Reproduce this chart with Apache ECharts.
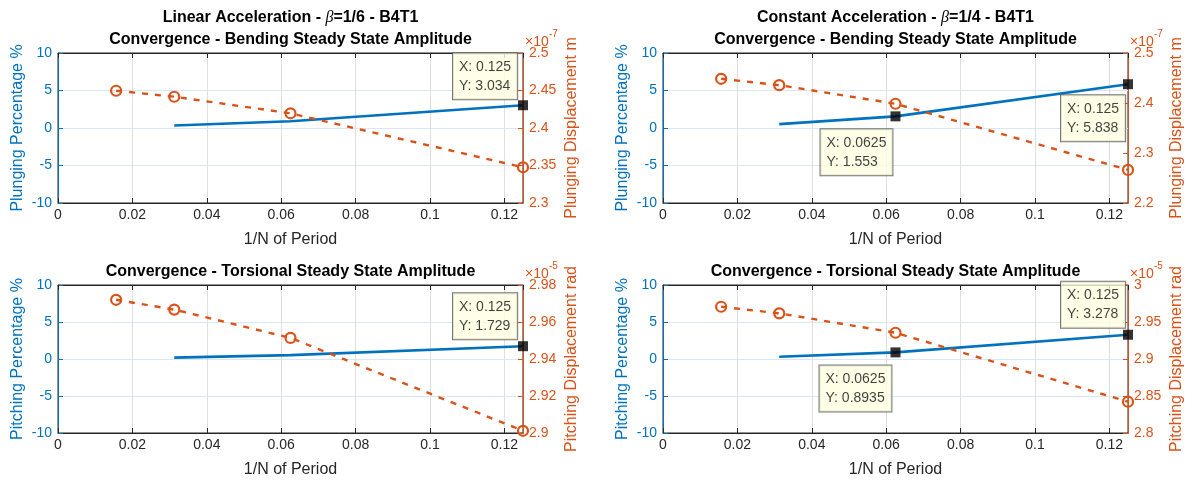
<!DOCTYPE html>
<html>
<head>
<meta charset="utf-8">
<title>Convergence - B4T1</title>
<script src="https://cdn.jsdelivr.net/npm/echarts@6/dist/echarts.min.js"></script>
<style>
  html, body { margin: 0; padding: 0; background: #fff; }
  #chart { width: 1192px; height: 484px; }
</style>
</head>
<body>
<div id="chart"></div>
<script>
// 1/N of period
var xDisp = [0.015625, 0.03125, 0.0625, 0.125];
var xPct = [0.03125, 0.0625, 0.125];
var xAxisLim = [0, 0.125, 0.02];
var pctAxisLim = [-10, 10, 5];

// linear acceleration, bending (displacement in 1e-7 m)
var linBendPct = [0.33, 0.91, 3.034];
var linBendDisp = [2.4497, 2.4417, 2.4196, 2.3476];
var linBendLim = [2.3, 2.5, 0.05];

// constant acceleration, bending (1e-7 m)
var conBendPct = [0.52, 1.553, 5.838];
var conBendDisp = [2.4484, 2.4357, 2.3985, 2.2662];
var conBendLim = [2.2, 2.5, 0.1];

// linear acceleration, torsion (1e-5 rad)
var linTorsPct = [0.18, 0.52, 1.729];
var linTorsDisp = [2.9720, 2.9667, 2.9514, 2.9012];
var linTorsLim = [2.9, 2.98, 0.02];

// constant acceleration, torsion (1e-5 rad)
var conTorsPct = [0.30, 0.8935, 3.278];
var conTorsDisp = [2.9706, 2.9617, 2.9355, 2.8423];
var conTorsLim = [2.8, 3.0, 0.05];

var BLUE = '#0072BD', ORANGE = '#D95319', DARK = '#262626';
var FONT = '"Liberation Sans", Arial, Helvetica, sans-serif';

var chart = echarts.init(document.getElementById('chart'));

// one entry per subplot
var panels = [
  { box: { left: 58, top: 53, width: 465, height: 150 },
    pct: linBendPct, disp: linBendDisp, lim: linBendLim, exp: '-7',
    leftName: 'Plunging Percentage %', rightName: 'Plunging Displacement m',
    tips: [2], tipPos: [[-65, -47]] },
  { box: { left: 663, top: 53, width: 465, height: 150 },
    pct: conBendPct, disp: conBendDisp, lim: conBendLim, exp: '-7',
    leftName: 'Plunging Percentage %', rightName: 'Plunging Displacement m',
    tips: [1, 2], tipPos: [[-70, 18], [-62, 16]] },
  { box: { left: 58, top: 285, width: 465, height: 148 },
    pct: linTorsPct, disp: linTorsDisp, lim: linTorsLim, exp: '-5',
    leftName: 'Pitching Percentage %', rightName: 'Pitching Displacement rad',
    tips: [2], tipPos: [[-65, -48]] },
  { box: { left: 663, top: 285, width: 465, height: 148 },
    pct: conTorsPct, disp: conTorsDisp, lim: conTorsLim, exp: '-5',
    leftName: 'Pitching Percentage %', rightName: 'Pitching Displacement rad',
    tips: [1, 2], tipPos: [[-71, 18], [-62, -48]] }
];

var grids = [], xAxes = [], yAxes = [], series = [], graphics = [];

function zip(xs, ys) {
  return ys.map(function (y, k) { return [xs[k], y]; });
}

panels.forEach(function (p, i) {
  grids.push(Object.assign({ show: true, borderColor: DARK, borderWidth: 1, backgroundColor: '#fff' }, p.box));

  // bottom x axis + plain top axis for the box ticks
  xAxes.push({
    type: 'value', gridIndex: i, position: 'bottom',
    min: xAxisLim[0], max: xAxisLim[1], interval: xAxisLim[2],
    axisLine: { show: true, onZero: false, lineStyle: { color: DARK } },
    axisTick: { show: true, inside: true, length: 5, lineStyle: { color: DARK } },
    axisLabel: { showMaxLabel: false, color: DARK, fontSize: 14, margin: 5, fontFamily: FONT },
    splitLine: { show: true, lineStyle: { color: '#dedede' } },
    name: '1/N of Period', nameLocation: 'middle', nameGap: 29,
    nameTextStyle: { color: DARK, fontSize: 16, fontFamily: FONT }
  });
  xAxes.push({
    type: 'value', gridIndex: i, position: 'top',
    min: xAxisLim[0], max: xAxisLim[1], interval: xAxisLim[2],
    axisLine: { show: true, onZero: false, lineStyle: { color: DARK } },
    axisTick: { show: true, inside: true, length: 5, lineStyle: { color: DARK } },
    axisLabel: { show: false }, splitLine: { show: false }
  });

  yAxes.push({
    type: 'value', gridIndex: i, position: 'left',
    min: pctAxisLim[0], max: pctAxisLim[1], interval: pctAxisLim[2],
    axisLine: { show: true, onZero: false, lineStyle: { color: BLUE } },
    axisTick: { show: true, inside: true, length: 5, lineStyle: { color: BLUE } },
    axisLabel: { color: BLUE, fontSize: 14, margin: 6, fontFamily: FONT },
    splitLine: { show: true, lineStyle: { color: '#d7e8f4' } },
    name: p.leftName, nameLocation: 'middle', nameGap: 32,
    nameTextStyle: { color: BLUE, fontSize: 16, fontFamily: FONT }
  });
  yAxes.push({
    type: 'value', gridIndex: i, position: 'right',
    min: p.lim[0], max: p.lim[1], interval: p.lim[2],
    axisLine: { show: true, onZero: false, lineStyle: { color: ORANGE } },
    axisTick: { show: true, inside: true, length: 5, lineStyle: { color: ORANGE } },
    axisLabel: { color: ORANGE, fontSize: 14, margin: 6, fontFamily: FONT },
    splitLine: { show: false },
    name: p.rightName, nameLocation: 'middle', nameGap: 41,
    nameTextStyle: { color: ORANGE, fontSize: 16, fontFamily: FONT }
  });

  // percentage (left axis)
  series.push({
    type: 'line', xAxisIndex: 2 * i, yAxisIndex: 2 * i,
    data: zip(xPct, p.pct), symbol: 'none', clip: false, z: 3,
    lineStyle: { color: BLUE, width: 2.6 }
  });
  // displacement (right axis)
  series.push({
    type: 'line', xAxisIndex: 2 * i, yAxisIndex: 2 * i + 1,
    data: zip(xDisp, p.disp), symbol: 'circle', symbolSize: 10, clip: false, z: 4,
    lineStyle: { color: ORANGE, width: 2.4, type: [6, 7] },
    itemStyle: { color: 'rgba(0,0,0,0)', borderColor: ORANGE, borderWidth: 2.2 }
  });
  // data tips
  series.push({
    type: 'scatter', xAxisIndex: 2 * i, yAxisIndex: 2 * i,
    symbol: 'rect', symbolSize: 10, clip: false, z: 10,
    itemStyle: { color: '#000' },
    data: p.tips.map(function (k, j) {
      return { value: [xPct[k], p.pct[k]], label: { position: p.tipPos[j] } };
    }),
    label: {
      show: true,
      formatter: function (d) { return 'X: ' + d.value[0] + '\nY: ' + d.value[1]; },
      backgroundColor: '#ffffe1', borderColor: '#555', borderWidth: 1,
      padding: [4, 6, 4, 6], fontSize: 14, lineHeight: 19, color: '#111', fontFamily: FONT
    }
  });

  // x10^n exponent over the right axis
  var ax = p.box.left + p.box.width + 2;
  graphics.push({ type: 'text', x: ax, y: p.box.top - 11,
    style: { text: '×10', fill: ORANGE, font: '14px ' + FONT, align: 'left', verticalAlign: 'middle' } });
  graphics.push({ type: 'text', x: ax + 24, y: p.box.top - 19,
    style: { text: p.exp, fill: ORANGE, font: '10px ' + FONT, align: 'left', verticalAlign: 'middle' } });
});

// subplot titles
var titleRich = {
  n: { fontSize: 16, fontWeight: 'bold', fontFamily: FONT, fill: '#000' },
  b: { fontSize: 16, fontStyle: 'italic', fontFamily: '"Liberation Serif", serif', fill: '#000' }
};
function addTitle(cx, cy, text) {
  graphics.push({ type: 'text', x: cx, y: cy,
    style: { text: text, rich: titleRich, align: 'center', verticalAlign: 'middle' } });
}
addTitle(290.5, 18, '{n|Linear Acceleration - }{b|β}{n|=1/6 - B4T1}');
addTitle(290.5, 40, '{n|Convergence - Bending Steady State Amplitude}');
addTitle(895.5, 18, '{n|Constant Acceleration - }{b|β}{n|=1/4 - B4T1}');
addTitle(895.5, 40, '{n|Convergence - Bending Steady State Amplitude}');
addTitle(290.5, 272, '{n|Convergence - Torsional Steady State Amplitude}');
addTitle(895.5, 272, '{n|Convergence - Torsional Steady State Amplitude}');

var option = {
  animation: false,
  backgroundColor: '#fff',
  grid: grids,
  xAxis: xAxes,
  yAxis: yAxes,
  series: series,
  graphic: graphics
};

chart.setOption(option);
</script>
</body>
</html>
